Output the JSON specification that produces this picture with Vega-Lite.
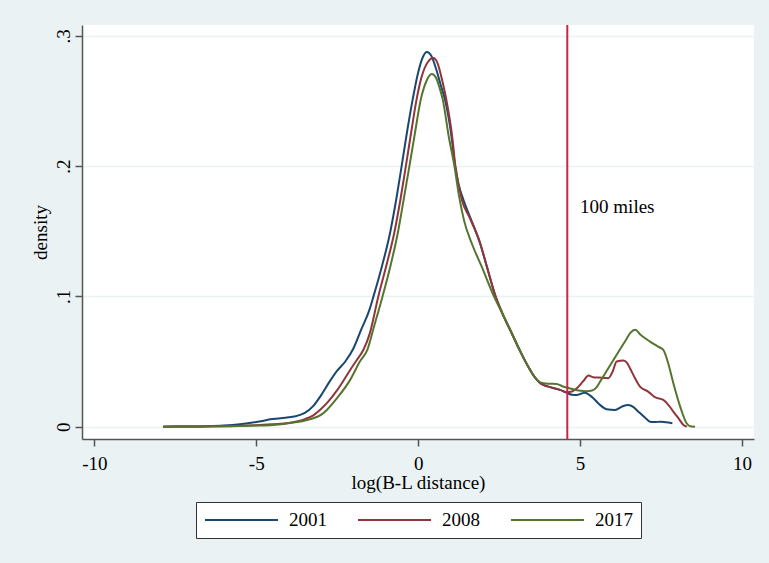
{
  "$schema": "https://vega.github.io/schema/vega-lite/v6.json",
  "width": 672,
  "height": 414,
  "autosize": {"type": "none"},
  "padding": {"left": 82, "top": 25, "right": 15, "bottom": 124},
  "background": "#EAF2F3",
  "config": {
    "view": {"fill": "white", "stroke": null},
    "font": "Liberation Serif",
    "axis": {
      "labelFont": "Liberation Serif",
      "titleFont": "Liberation Serif",
      "labelFontSize": 19,
      "titleFontSize": 19,
      "titleFontWeight": "normal",
      "labelColor": "black",
      "titleColor": "black",
      "domainColor": "#555555",
      "tickColor": "#555555",
      "domainWidth": 1.5,
      "tickWidth": 1.5,
      "tickSize": 7
    },
    "legend": {"layout": {"bottom": {"anchor": "middle"}}}
  },
  "layer": [
    {
      "data": {
        "values": [
          {"year":"2001","x":-7.88,"y":0},{"year":"2001","x":-7.0,"y":0.0001},{"year":"2001","x":-6.5,"y":0.0003},{"year":"2001","x":-6.0,"y":0.0008},{"year":"2001","x":-5.5,"y":0.0018},{"year":"2001","x":-5.0,"y":0.0035},{"year":"2001","x":-4.5,"y":0.0058},{"year":"2001","x":-4.0,"y":0.0072},{"year":"2001","x":-3.75,"y":0.0082},{"year":"2001","x":-3.5,"y":0.0105},{"year":"2001","x":-3.25,"y":0.0155},{"year":"2001","x":-3.0,"y":0.024},{"year":"2001","x":-2.75,"y":0.034},{"year":"2001","x":-2.5,"y":0.043},{"year":"2001","x":-2.25,"y":0.05},{"year":"2001","x":-2.0,"y":0.06},{"year":"2001","x":-1.75,"y":0.075},{"year":"2001","x":-1.5,"y":0.09},{"year":"2001","x":-1.38,"y":0.1},{"year":"2001","x":-1.12,"y":0.123},{"year":"2001","x":-0.87,"y":0.1485},{"year":"2001","x":-0.68,"y":0.174},{"year":"2001","x":-0.51,"y":0.2},{"year":"2001","x":-0.35,"y":0.2253},{"year":"2001","x":-0.17,"y":0.2511},{"year":"2001","x":0.0,"y":0.272},{"year":"2001","x":0.15,"y":0.284},{"year":"2001","x":0.27,"y":0.2876},{"year":"2001","x":0.4,"y":0.285},{"year":"2001","x":0.55,"y":0.275},{"year":"2001","x":0.7,"y":0.262},{"year":"2001","x":0.83,"y":0.251},{"year":"2001","x":1.03,"y":0.2227},{"year":"2001","x":1.14,"y":0.2},{"year":"2001","x":1.25,"y":0.186},{"year":"2001","x":1.4,"y":0.174},{"year":"2001","x":1.6,"y":0.161},{"year":"2001","x":1.91,"y":0.141},{"year":"2001","x":2.12,"y":0.123},{"year":"2001","x":2.39,"y":0.1},{"year":"2001","x":2.6,"y":0.087},{"year":"2001","x":2.89,"y":0.0717},{"year":"2001","x":3.15,"y":0.058},{"year":"2001","x":3.4,"y":0.046},{"year":"2001","x":3.6,"y":0.038},{"year":"2001","x":3.77,"y":0.0333},{"year":"2001","x":4.02,"y":0.0307},{"year":"2001","x":4.38,"y":0.0282},{"year":"2001","x":4.59,"y":0.026},{"year":"2001","x":4.75,"y":0.0245},{"year":"2001","x":4.9,"y":0.0243},{"year":"2001","x":5.05,"y":0.0255},{"year":"2001","x":5.16,"y":0.0261},{"year":"2001","x":5.3,"y":0.024},{"year":"2001","x":5.41,"y":0.0218},{"year":"2001","x":5.6,"y":0.017},{"year":"2001","x":5.82,"y":0.0134},{"year":"2001","x":6.08,"y":0.0128},{"year":"2001","x":6.3,"y":0.0155},{"year":"2001","x":6.49,"y":0.0167},{"year":"2001","x":6.65,"y":0.015},{"year":"2001","x":6.8,"y":0.0115},{"year":"2001","x":7.0,"y":0.007},{"year":"2001","x":7.16,"y":0.0038},{"year":"2001","x":7.3,"y":0.0035},{"year":"2001","x":7.47,"y":0.0038},{"year":"2001","x":7.65,"y":0.0033},{"year":"2001","x":7.85,"y":0.0026},
          {"year":"2008","x":-7.88,"y":0},{"year":"2008","x":-7.0,"y":0.0001},{"year":"2008","x":-6.0,"y":0.0003},{"year":"2008","x":-5.0,"y":0.001},{"year":"2008","x":-4.5,"y":0.0018},{"year":"2008","x":-4.0,"y":0.0028},{"year":"2008","x":-3.75,"y":0.004},{"year":"2008","x":-3.5,"y":0.0058},{"year":"2008","x":-3.25,"y":0.0085},{"year":"2008","x":-3.0,"y":0.0135},{"year":"2008","x":-2.82,"y":0.018},{"year":"2008","x":-2.5,"y":0.028},{"year":"2008","x":-2.1,"y":0.0435},{"year":"2008","x":-1.9,"y":0.051},{"year":"2008","x":-1.69,"y":0.059},{"year":"2008","x":-1.5,"y":0.071},{"year":"2008","x":-1.23,"y":0.1},{"year":"2008","x":-1.0,"y":0.122},{"year":"2008","x":-0.74,"y":0.1485},{"year":"2008","x":-0.55,"y":0.174},{"year":"2008","x":-0.38,"y":0.2},{"year":"2008","x":-0.22,"y":0.2253},{"year":"2008","x":-0.05,"y":0.2511},{"year":"2008","x":0.1,"y":0.268},{"year":"2008","x":0.3,"y":0.28},{"year":"2008","x":0.47,"y":0.283},{"year":"2008","x":0.6,"y":0.279},{"year":"2008","x":0.75,"y":0.265},{"year":"2008","x":0.87,"y":0.251},{"year":"2008","x":1.05,"y":0.2227},{"year":"2008","x":1.15,"y":0.2},{"year":"2008","x":1.35,"y":0.174},{"year":"2008","x":1.6,"y":0.16},{"year":"2008","x":1.91,"y":0.141},{"year":"2008","x":2.12,"y":0.123},{"year":"2008","x":2.39,"y":0.1},{"year":"2008","x":2.6,"y":0.087},{"year":"2008","x":2.89,"y":0.0717},{"year":"2008","x":3.15,"y":0.058},{"year":"2008","x":3.4,"y":0.046},{"year":"2008","x":3.6,"y":0.038},{"year":"2008","x":3.77,"y":0.0333},{"year":"2008","x":4.02,"y":0.0307},{"year":"2008","x":4.38,"y":0.0282},{"year":"2008","x":4.59,"y":0.0264},{"year":"2008","x":4.75,"y":0.027},{"year":"2008","x":4.9,"y":0.0295},{"year":"2008","x":5.1,"y":0.035},{"year":"2008","x":5.26,"y":0.0392},{"year":"2008","x":5.4,"y":0.038},{"year":"2008","x":5.57,"y":0.0377},{"year":"2008","x":5.87,"y":0.0372},{"year":"2008","x":6.0,"y":0.042},{"year":"2008","x":6.13,"y":0.05},{"year":"2008","x":6.34,"y":0.0507},{"year":"2008","x":6.45,"y":0.049},{"year":"2008","x":6.54,"y":0.0448},{"year":"2008","x":6.7,"y":0.037},{"year":"2008","x":6.85,"y":0.0307},{"year":"2008","x":7.1,"y":0.0269},{"year":"2008","x":7.31,"y":0.0226},{"year":"2008","x":7.57,"y":0.0205},{"year":"2008","x":7.75,"y":0.016},{"year":"2008","x":7.88,"y":0.0115},{"year":"2008","x":8.05,"y":0.006},{"year":"2008","x":8.19,"y":0.0013},{"year":"2008","x":8.3,"y":0},
          {"year":"2017","x":-7.88,"y":0},{"year":"2017","x":-7.0,"y":0.0001},{"year":"2017","x":-6.0,"y":0.0002},{"year":"2017","x":-5.0,"y":0.0008},{"year":"2017","x":-4.5,"y":0.0013},{"year":"2017","x":-4.16,"y":0.002},{"year":"2017","x":-3.75,"y":0.0035},{"year":"2017","x":-3.34,"y":0.0057},{"year":"2017","x":-3.0,"y":0.009},{"year":"2017","x":-2.82,"y":0.0128},{"year":"2017","x":-2.5,"y":0.022},{"year":"2017","x":-2.1,"y":0.0359},{"year":"2017","x":-1.8,"y":0.05},{"year":"2017","x":-1.57,"y":0.059},{"year":"2017","x":-1.35,"y":0.078},{"year":"2017","x":-1.1,"y":0.1},{"year":"2017","x":-0.85,"y":0.124},{"year":"2017","x":-0.63,"y":0.1485},{"year":"2017","x":-0.45,"y":0.174},{"year":"2017","x":-0.27,"y":0.2},{"year":"2017","x":-0.1,"y":0.2253},{"year":"2017","x":0.08,"y":0.2511},{"year":"2017","x":0.25,"y":0.265},{"year":"2017","x":0.42,"y":0.2707},{"year":"2017","x":0.55,"y":0.268},{"year":"2017","x":0.65,"y":0.261},{"year":"2017","x":0.76,"y":0.2511},{"year":"2017","x":0.95,"y":0.222},{"year":"2017","x":1.12,"y":0.2},{"year":"2017","x":1.27,"y":0.176},{"year":"2017","x":1.42,"y":0.158},{"year":"2017","x":1.65,"y":0.141},{"year":"2017","x":1.96,"y":0.123},{"year":"2017","x":2.34,"y":0.1},{"year":"2017","x":2.6,"y":0.087},{"year":"2017","x":2.89,"y":0.0717},{"year":"2017","x":3.15,"y":0.058},{"year":"2017","x":3.4,"y":0.046},{"year":"2017","x":3.6,"y":0.038},{"year":"2017","x":3.77,"y":0.034},{"year":"2017","x":4.0,"y":0.033},{"year":"2017","x":4.28,"y":0.0328},{"year":"2017","x":4.45,"y":0.031},{"year":"2017","x":4.59,"y":0.03},{"year":"2017","x":4.96,"y":0.0277},{"year":"2017","x":5.2,"y":0.0272},{"year":"2017","x":5.37,"y":0.0277},{"year":"2017","x":5.5,"y":0.03},{"year":"2017","x":5.62,"y":0.0346},{"year":"2017","x":5.8,"y":0.042},{"year":"2017","x":6.0,"y":0.05},{"year":"2017","x":6.2,"y":0.058},{"year":"2017","x":6.4,"y":0.066},{"year":"2017","x":6.55,"y":0.072},{"year":"2017","x":6.71,"y":0.0743},{"year":"2017","x":6.85,"y":0.071},{"year":"2017","x":7.0,"y":0.068},{"year":"2017","x":7.16,"y":0.0653},{"year":"2017","x":7.41,"y":0.0614},{"year":"2017","x":7.57,"y":0.0589},{"year":"2017","x":7.72,"y":0.0487},{"year":"2017","x":7.88,"y":0.0333},{"year":"2017","x":8.09,"y":0.0154},{"year":"2017","x":8.29,"y":0.0026},{"year":"2017","x":8.4,"y":0.0003},{"year":"2017","x":8.55,"y":0}
        ]
      },
      "mark": {"type": "line", "interpolate": "monotone", "strokeWidth": 2},
      "encoding": {
        "x": {
          "field": "x", "type": "quantitative",
          "scale": {"domain": [-10.38, 10.37], "nice": false, "zero": false},
          "axis": {
            "values": [-10, -5, 0, 5, 10],
            "labelExpr": "datum.value < 0 ? '-' + abs(datum.value) : '' + datum.value",
            "title": "log(B-L distance)", "grid": false, "labelPadding": 8, "titlePadding": 0
          }
        },
        "y": {
          "field": "y", "type": "quantitative",
          "scale": {"domain": [-0.0095, 0.3084], "nice": false, "zero": false},
          "axis": {
            "values": [0, 0.1, 0.2, 0.3],
            "labelExpr": "datum.value == 0 ? '0' : replace(format(datum.value, '.1f'), '0.', '.')",
            "labelAngle": -90, "labelAlign": "center", "labelBaseline": "alphabetic", "labelPadding": 6,
            "grid": true, "gridColor": "#EAF2F3", "gridWidth": 1.5,
            "title": "density", "titlePadding": 4
          }
        },
        "color": {
          "field": "year", "type": "nominal",
          "scale": {"domain": ["2001", "2008", "2017"], "range": ["#1a476f", "#90353b", "#55752f"]},
          "legend": {
            "orient": "bottom", "direction": "horizontal", "title": null,
            "symbolType": "stroke", "symbolSize": 5329, "symbolStrokeWidth": 2,
            "labelFont": "Liberation Serif", "labelFontSize": 19, "labelColor": "black",
            "labelOffset": 10, "columnPadding": 30, "padding": 8, "clipHeight": 20,
            "strokeColor": "#333333", "fillColor": "white", "offset": 10
          }
        }
      }
    },
    {
      "data": {"values": [{}]},
      "mark": {"type": "rule", "color": "#c8244c", "strokeWidth": 2},
      "encoding": {"x": {"datum": 4.605, "type": "quantitative"}}
    },
    {
      "data": {"values": [{"x": 5.0, "y": 0.164, "label": "100 miles"}]},
      "mark": {"type": "text", "align": "left", "baseline": "alphabetic", "fontSize": 19, "font": "Liberation Serif", "color": "black"},
      "encoding": {
        "x": {"field": "x", "type": "quantitative"},
        "y": {"field": "y", "type": "quantitative"},
        "text": {"field": "label"}
      }
    }
  ]
}
